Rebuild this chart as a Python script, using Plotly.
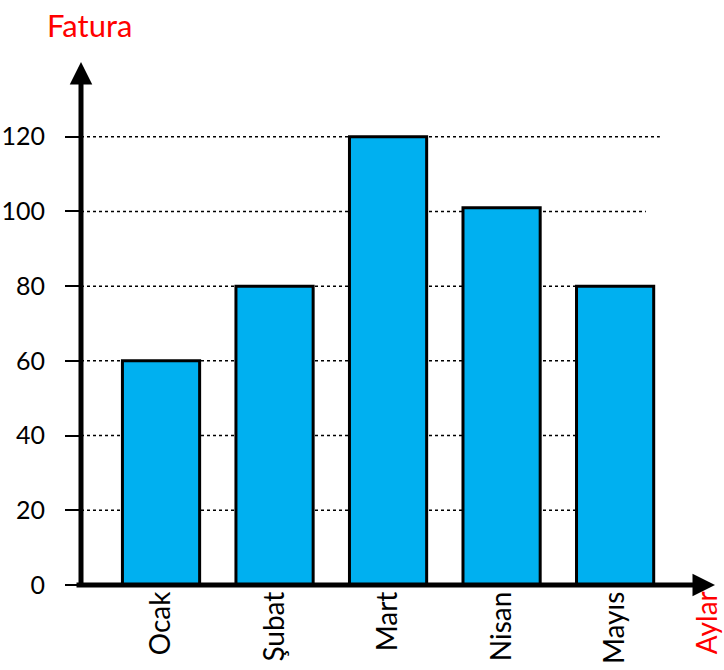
import plotly.graph_objects as go

months = ["Ocak", "Şubat", "Mart", "Nisan", "Mayıs"]
values = [60, 80, 120, 101, 80]
y_ticks = [0, 20, 40, 60, 80, 100, 120]
grid_ticks = [20, 40, 60, 80, 100, 120]
grid_ends = [0.78, 0.78, 0.78, 0.891, 0.891, 0.913]  # style: paper x where each dotted line stops

FONT = "Lato"

fig = go.Figure()
fig.add_trace(go.Bar(
    x=list(range(len(months))), y=values,
    width=0.68,
    marker=dict(color="#00B0F0", line=dict(color="black", width=3)),
    hoverinfo="skip",
))

shapes = []
for t, e in zip(grid_ticks, grid_ends):
    shapes.append(dict(type="line", xref="paper", yref="y", x0=0, x1=e, y0=t, y1=t,
                       line=dict(color="black", width=1.5, dash="dot"), layer="below"))

annotations = [
    # y axis arrow
    dict(xref="paper", yref="paper", x=0, y=1, ax=0, ay=526, text="", showarrow=True,
         arrowhead=2, arrowsize=0.9, arrowwidth=5, arrowcolor="black", standoff=0, startstandoff=0),
    # x axis arrow
    dict(xref="paper", yref="paper", x=1, y=0, ax=-640, ay=0, text="", showarrow=True,
         arrowhead=2, arrowsize=0.9, arrowwidth=5, arrowcolor="black", standoff=0, startstandoff=0),
    dict(xref="paper", yref="paper", x=0.014, y=1.071, text="Fatura", showarrow=False,
         font=dict(family=FONT, size=31, color="red"), xanchor="center", yanchor="middle"),
    dict(xref="paper", yref="paper", x=0.985, y=-0.008, text="Aylar", showarrow=False,
         textangle=-90, font=dict(family=FONT, size=28, color="red"), xanchor="center", yanchor="top"),
]

fig.update_layout(
    width=724, height=670,
    margin=dict(l=81, r=9, t=62, b=85),
    paper_bgcolor="white", plot_bgcolor="white",
    showlegend=False,
    shapes=shapes,
    annotations=annotations,
    font=dict(family=FONT, color="black"),
    xaxis=dict(
        range=[-0.705, 4.88],
        tickmode="array", tickvals=list(range(len(months))), ticktext=months,
        tickangle=-90, tickfont=dict(family=FONT, size=28, color="black"),
        showgrid=False, zeroline=False, showline=False, ticks="", fixedrange=True,
        automargin=False,
    ),
    yaxis=dict(
        range=[0, 140],
        tickmode="array", tickvals=y_ticks, ticktext=[str(v) for v in y_ticks],
        tickfont=dict(family=FONT, size=25, color="black"),
        ticks="outside", ticklen=15, tickwidth=2, tickcolor="black",
        ticklabelstandoff=15,
        showgrid=False, zeroline=False, showline=False, fixedrange=True,
        automargin=False,
    ),
)

fig.write_html("out.html",
               config={"displayModeBar": False, "staticPlot": True},
               post_script="document.body.style.margin='0';document.body.style.padding='0';")
